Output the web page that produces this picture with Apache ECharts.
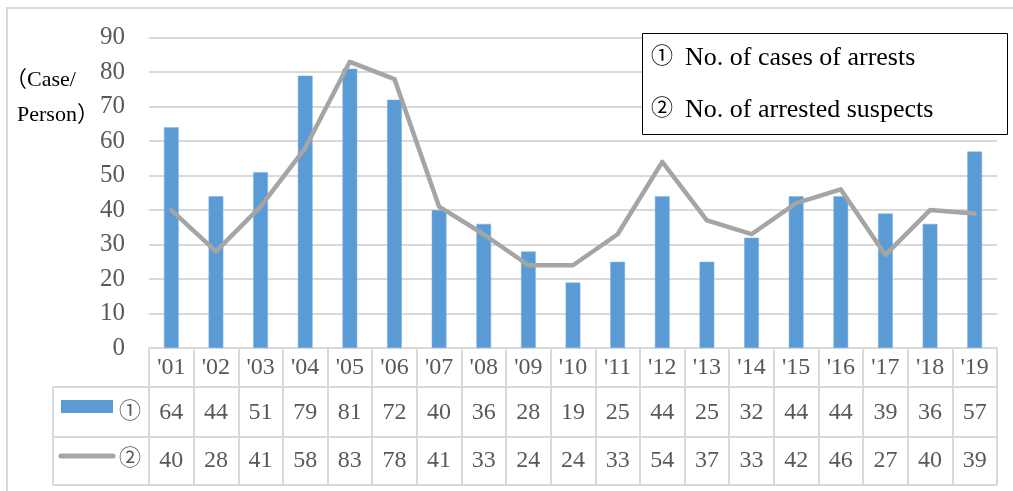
<!DOCTYPE html>
<html>
<head>
<meta charset="utf-8">
<style>
  html, body { margin: 0; padding: 0; background: #ffffff; }
  #chart { width: 1013px; height: 491px; }
</style>
<script src="https://cdn.jsdelivr.net/npm/echarts@6/dist/echarts.min.js"></script>
</head>
<body>
<div id="chart"></div>
<script>
// Fiscal years shown on the category axis
const years = ["'01", "'02", "'03", "'04", "'05", "'06", "'07", "'08", "'09", "'10",
               "'11", "'12", "'13", "'14", "'15", "'16", "'17", "'18", "'19"];
// ① No. of cases of arrests
const cases = [64, 44, 51, 79, 81, 72, 40, 36, 28, 19, 25, 44, 25, 32, 44, 44, 39, 36, 57];
// ② No. of arrested suspects
const suspects = [40, 28, 41, 58, 83, 78, 41, 33, 24, 24, 33, 54, 37, 33, 42, 46, 27, 40, 39];
// Value axis ticks
const yTicks = [0, 10, 20, 30, 40, 50, 60, 70, 80, 90];

const SERIF = '"Liberation Serif", "Times New Roman", "Noto Sans CJK JP", serif';
const GRID_LINE = '#d9d9d9';
const TEXT_GRAY = '#595959';
const BLUE = '#5b9bd5';
const GRAY = '#a5a5a5';

// Layout of the plot area and the data table beneath it
const plotLeft = 149, plotRight = 997, plotTop = 37.7, plotBottom = 348;
const tableLeft = 53, rowLines = [387, 437, 485];

const chart = echarts.init(document.getElementById('chart'), null, { renderer: 'canvas' });

function tableAxis(values, margin, showFrame) {
  return {
    type: 'category',
    gridIndex: 0,
    position: 'bottom',
    data: values.map(String),
    boundaryGap: true,
    axisLine: { show: showFrame, lineStyle: { color: GRID_LINE, width: 2 } },
    axisTick: {
      show: showFrame,
      interval: 0,
      length: rowLines[rowLines.length - 1] - plotBottom,
      lineStyle: { color: GRID_LINE, width: 2 }
    },
    axisLabel: {
      interval: 0,
      margin: margin,
      color: TEXT_GRAY,
      fontFamily: SERIF,
      fontSize: 24
    },
    splitLine: { show: false }
  };
}

const graphics = [
  // outer chart frame
  { type: 'polyline', silent: true, z: 0,
    shape: { points: [[7, 500], [7, 8], [1020, 8]] },
    style: { stroke: GRID_LINE, lineWidth: 2, fill: null } },
  // table left column border
  { type: 'line', silent: true,
    shape: { x1: tableLeft, y1: rowLines[0], x2: tableLeft, y2: rowLines[2] },
    style: { stroke: GRID_LINE, lineWidth: 2 } },
  // legend key for ①
  { type: 'rect', silent: true,
    shape: { x: 61, y: 400, width: 52, height: 13 },
    style: { fill: BLUE } },
  { type: 'text', silent: true,
    style: { x: 130, y: 412, text: '①', fill: TEXT_GRAY, font: '22px ' + SERIF,
             textAlign: 'center', textVerticalAlign: 'middle' } },
  // legend key for ②
  { type: 'line', silent: true,
    shape: { x1: 61, y1: 456, x2: 113, y2: 456 },
    style: { stroke: GRAY, lineWidth: 5, lineCap: 'round' } },
  { type: 'text', silent: true,
    style: { x: 130, y: 459, text: '②', fill: TEXT_GRAY, font: '22px ' + SERIF,
             textAlign: 'center', textVerticalAlign: 'middle' } },
  // unit label
  { type: 'text', silent: true,
    style: { x: 5, y: 80, text: '（Case/', fill: '#000', font: '22px ' + SERIF,
             textAlign: 'left', textVerticalAlign: 'middle' } },
  { type: 'text', silent: true,
    style: { x: 17, y: 115, text: 'Person）', fill: '#000', font: '22px ' + SERIF,
             textAlign: 'left', textVerticalAlign: 'middle' } },
  // series description box
  { type: 'rect', silent: true, z: 10,
    shape: { x: 642.5, y: 33.5, width: 365, height: 101 },
    style: { fill: '#fff', stroke: '#000', lineWidth: 1 } },
  { type: 'text', silent: true, z: 11,
    style: { x: 651, y: 57, text: '①', fill: '#000',
             font: '22px ' + SERIF, textAlign: 'left', textVerticalAlign: 'middle' } },
  { type: 'text', silent: true, z: 11,
    style: { x: 685, y: 58, text: 'No. of cases of arrests', fill: '#000',
             font: '26px ' + SERIF, textAlign: 'left', textVerticalAlign: 'middle' } },
  { type: 'text', silent: true, z: 11,
    style: { x: 651, y: 109, text: '②', fill: '#000',
             font: '22px ' + SERIF, textAlign: 'left', textVerticalAlign: 'middle' } },
  { type: 'text', silent: true, z: 11,
    style: { x: 685, y: 110, text: 'No. of arrested suspects', fill: '#000',
             font: '26px ' + SERIF, textAlign: 'left', textVerticalAlign: 'middle' } }
];

// horizontal table rules
rowLines.forEach(function (y) {
  graphics.push({ type: 'line', silent: true,
    shape: { x1: tableLeft, y1: y, x2: plotRight, y2: y },
    style: { stroke: GRID_LINE, lineWidth: 2 } });
});

const option = {
  animation: false,
  backgroundColor: '#ffffff',
  grid: {
    left: plotLeft,
    right: 1013 - plotRight,
    top: plotTop,
    bottom: 491 - plotBottom,
    containLabel: false
  },
  xAxis: [
    tableAxis(years, 8, true),
    tableAxis(cases, 53, false),
    tableAxis(suspects, 101, false)
  ],
  yAxis: {
    type: 'value',
    min: yTicks[0],
    max: yTicks[yTicks.length - 1],
    interval: yTicks[1] - yTicks[0],
    axisLine: { show: false },
    axisTick: { show: false },
    axisLabel: { margin: 24, color: TEXT_GRAY, fontFamily: SERIF, fontSize: 25 },
    splitLine: { lineStyle: { color: GRID_LINE, width: 2 } }
  },
  series: [
    {
      name: '①',
      type: 'bar',
      xAxisIndex: 0,
      data: cases,
      barWidth: '33%',
      itemStyle: { color: BLUE, borderColor: '#7fb2e0', borderWidth: 0.5 }
    },
    {
      name: '②',
      type: 'line',
      xAxisIndex: 0,
      data: suspects,
      showSymbol: false,
      symbol: 'none',
      smooth: false,
      clip: false,
      lineStyle: { color: GRAY, width: 4.5, cap: 'round', join: 'round' },
      z: 3
    }
  ],
  graphic: graphics
};

chart.setOption(option);
</script>
</body>
</html>
